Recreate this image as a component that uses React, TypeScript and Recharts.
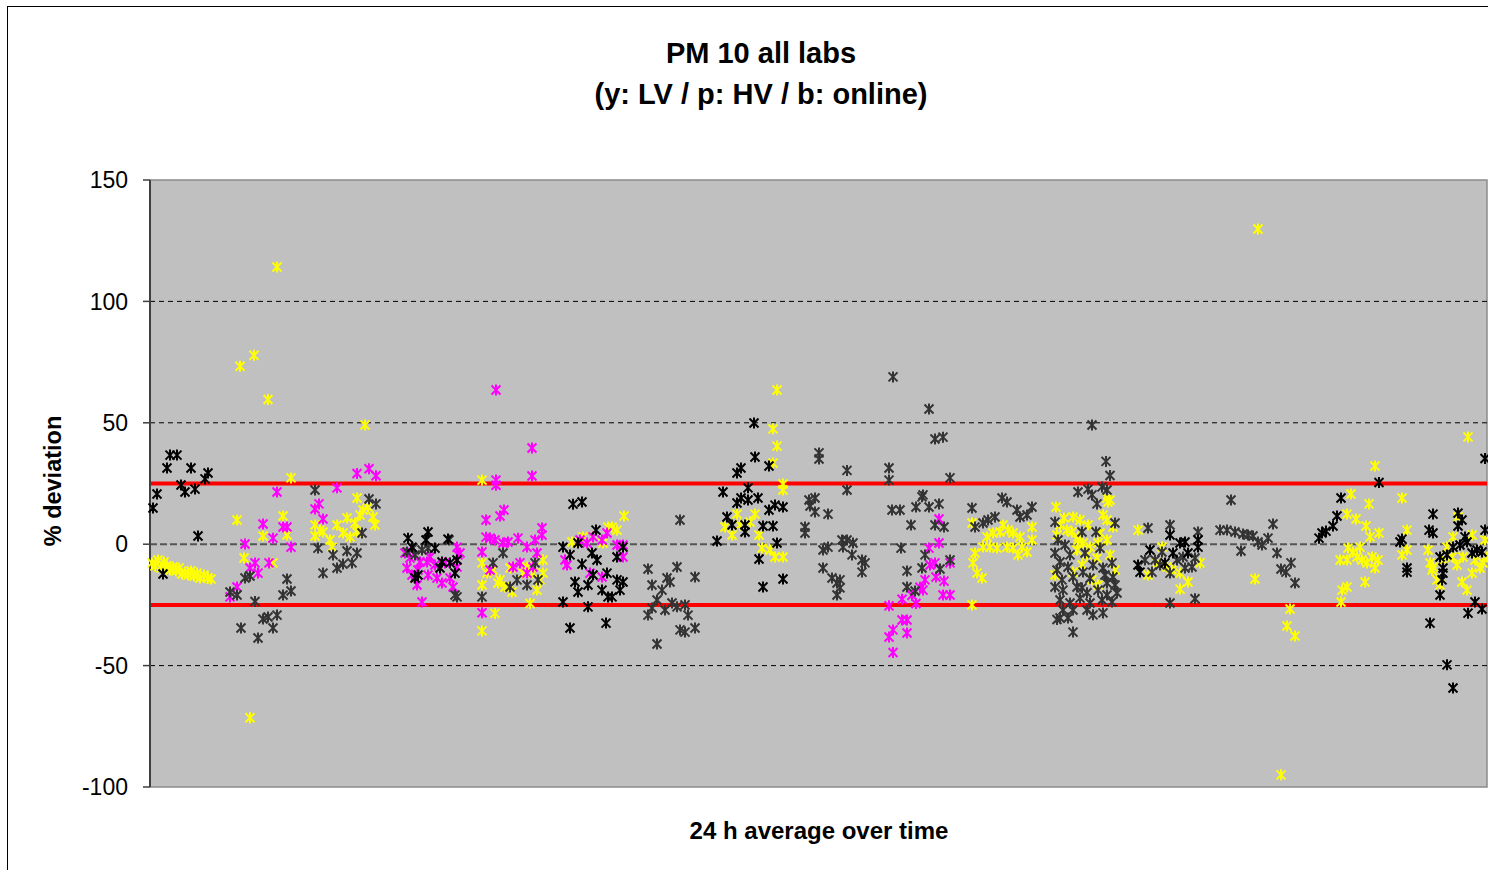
import { ReferenceArea, ReferenceLine, Scatter, ScatterChart, XAxis, YAxis } from "recharts";

// x = day index over the campaign, y = % deviation
const lvYellow: [number, number][] = [
  [1, -7.7], [2.5, -9], [4, -6.5], [5.5, -9.8], [7, -7.3], [8.5, -9], [10, -10.6], [11.5, -9.4], [13, -11], [14.5, -9.8],
  [16, -12.3], [17.5, -11.5], [19, -12.7], [20.5, -11], [22, -13.1], [23.5, -11.9], [25, -13.9], [27, -12.7], [29, -13.9], [30.5, -14.3],
  [43.5, 10], [47, -5.7], [45, 73.3], [52, 77.8], [59, 59.6], [50, -71.5], [63.5, 114.2], [56.5, 3.4], [61.5, -7.7], [66.5, 11.6],
  [68.5, 3.8], [70.5, 27.3],
  [82.5, 7.9], [85, 5.8], [86.5, 5], [82.5, 3.4], [90, 1.7], [91, -1.2], [93.5, 7.9], [98.5, 10.8], [96.5, 4.6], [100, 3],
  [103.5, 5], [105, 12], [106.5, 14.1], [109, 15.3], [111.5, 11.2], [112.5, 7.9], [102.5, 8.7], [103.5, 19], [107.5, 49.1],
  [166, 26.4], [166, -7.7], [168.5, -11.9], [171.5, -10.6], [175, -14.7], [177.5, -17.6], [181, -19.7], [186.5, -11.9], [188.5, -9.4],
  [191.5, -11.9], [193.5, -18.9], [195, -14.7], [196.5, -6.5], [196.5, -11.9], [190, -24.4], [166, -16.8], [172.5, -28.5], [166, -35.7],
  [174, -16], [180, -9.8],
  [211, 0.9], [216.5, 3], [221.5, 3], [226.5, 0.5], [229, 7.1], [231, 7.1], [233.5, 5.8], [237, 11.6],
  [311.5, 47.5], [313.5, 40.4], [311.5, 33.4], [316.5, 24.8], [316.5, 22.3], [293.5, 12.4], [302.5, 12.4], [287.5, 7.1], [291, 3.8],
  [300, 9.1], [304.5, 3.8], [295, 7.9], [306, -1.6], [310, -2.4], [312.5, -5.3], [316.5, -5.3], [313.5, 63.5],
  [411, 8.7], [411, -25], [411.5, -7.7], [412.5, -3.6], [413.5, -11.9], [416, -13.9], [416.5, -1.2], [418.5, 3], [421.5, 4.6],
  [425, 5], [426.5, 7.9], [429, 5.8], [431.5, 4.6], [435, 3], [436, -1.2], [438.5, -3.2], [441, 7.1], [441, 1.7], [434, -4.4],
  [420, -1.2], [423.5, -1.6], [428.5, -1.2], [431.5, -1.6],
  [453, 15.3], [457, 10.8], [461.5, 11.2], [465, 10], [469, 7.9], [476.5, 12], [479, 17.4], [478.5, 10], [481.5, 7.1], [455, 7.9],
  [458.5, 5.8], [453.5, 3.8], [461, 5], [464, 1.7], [466.5, 0.5], [470, -1.2], [474, 0.5], [478.5, 1.7], [475, 4.6], [463.5, -2.4],
  [468.5, -4.4], [473.5, -5.7], [480, -4.4], [466, -8.6], [482.5, -10.6], [471, -14.7], [474, -16.8], [452.5, -12.7], [461.5, -11.5],
  [464, 3], [478.5, 19], [480, 18.2],
  [494, 5.8], [506, -1.2], [503.5, -7.7], [508.5, -9.4], [515, -11.9], [519, -15.6], [515, -18.5], [525, -7.7], [511, -10.6], [499, -12.7],
  [552.5, -14.3], [570, -26.7], [568.5, -33.7], [572.5, -37.8], [554, 129.8], [565.5, -95],
  [659, 44.2], [612.5, 32.2], [600.5, 20.7], [609.5, 16.6], [626, 19], [598.5, 12.4], [603, 10.4], [608, 7.5], [610, 3], [614.5, 4.6],
  [628.5, 5.8], [628.5, -2.4], [626, -4.4], [599, -1.6], [601.5, -3.2], [605, -1.2], [606, -6.5], [608.5, -7.7], [611, -5.3],
  [612.5, -9.8], [595, -6.5], [614, -6.5], [603.5, -5.3], [598.5, -6.5], [607.5, -15.6], [596, -18.9], [598.5, -17.6], [595.5, -23.8],
  [654, 11.2], [651.5, 3], [661, 3.8], [667.5, 1.7],
  [639, -2.4], [640, -7.7], [641.5, -9.4], [643.5, -14.7], [645, -16.8], [648.5, -1.2], [651, -5.3], [653.5, -8.6], [656, -15.6],
  [658.5, -18.9], [661, -11.9], [662.5, -6.5], [665, -9.8], [666.5, -7.7], [641, -10.6], [646.5, -6.5], [656.5, -5.3], [668.5, -5.3],
];

const hvMagenta: [number, number][] = [
  [47.5, 0.1], [52.5, -7.7], [50, -9.8], [54, -11.9], [43.5, -17.6], [40, -21.7], [56.5, 8.3], [61.5, 2.5], [59.5, -7.7],
  [66.5, 7.1], [68.5, 7.1], [70.5, -1.2], [63.5, 21.5], [93.5, 23.2], [103.5, 29.1], [109.5, 31.1], [113, 28.2],
  [82.5, 14.5], [84.5, 16.6], [86.5, 10.4],
  [127.5, -3.6], [130, -5.7], [128.5, -9.8], [131, -12.7], [136, -23.8], [140, -5.3], [138.5, -7.3], [142.5, -8.6], [147.5, -7.7],
  [153.5, -1.2], [154, -4.4], [150, -13.9], [151.5, -17.6], [146, -16], [139, -12.7], [143.5, -13.9], [135, -7.3], [134, -10.6],
  [153.5, -9.4], [155, -3.6], [133.5, -16.8],
  [173, 63.5], [173, 26.4], [173, 24.3], [191, 39.6], [191, 28.1], [168, 10], [175, 11.6], [177, 14.1], [168, 2.9], [170, 2.5],
  [172.5, 1.7], [176.5, 0.5], [179, 0.9], [184, 2.5], [188.5, -1.2], [192.5, 1.7], [196, 6.7], [196, 3.8], [166, -3.2], [170, -10.6],
  [181.5, -9.4], [185, -7.7], [188.5, -11.9], [191.5, -9.4], [193.5, -3.6], [166, -28.2],
  [207.5, -6.5], [208.5, -8.6], [215, 1.7], [221.5, 3], [218.5, 0.5], [226, 1.7], [228.5, 4.6], [226, -13.5], [220, -11.9],
  [233.5, -0.3], [236.5, -0.3], [236.5, -5.3],
  [394.5, 10.4], [394.5, 0.5], [389.5, -1.6], [387.5, -14.7], [392.5, -7.7], [390, -8.6], [393, -13.5], [397, -15.2], [400, -7.7],
  [385, -17.7], [386.5, -18.9], [381, -21], [376, -22.7], [383, -24.4], [396.5, -20.9], [400, -20.9], [369.5, -25.4], [376, -31.2],
  [378.5, -31.2], [371.5, -35.3], [369.5, -38.2], [378.5, -36.6], [371.5, -44.6],
];

const onlineBlack: [number, number][] = [
  [1.5, 14.9], [3.5, 20.7], [8.5, 31.4], [10, 36.7], [13.5, 36.7], [15.5, 24.4], [17.5, 21.5], [20.5, 31.4], [22.5, 22.7],
  [24, 3.4], [27.5, 26.9], [29, 29.3], [6.5, -12.3],
  [129, 2.5], [139, 5], [138, 1.7], [131, -1.2], [142.5, -1.6], [149, 2.1], [146, -7.3], [150, -7.7], [153.5, -6.5],
  [134, -12.7], [132.5, -13.9], [152.5, -11.9], [145, -9.8],
  [211.5, 16.5], [216, 17.4], [206.5, -1.2], [210, -4.4], [214, 0.5], [223, 5.8], [216, -8.2], [221, -3.6], [223.5, -6.5],
  [212.5, -15.6], [214, -19.7], [219, -16.8], [221.5, -12.7], [226, -18.9], [228.5, -11.9], [206.5, -23.8], [219, -25.8],
  [210, -34.5], [228, -32.5], [229, -21.7], [233.5, -5.3], [236.5, -1.2], [233.5, -14.7], [236.5, -15.6], [235, -18.9], [231, -21.7],
  [302, 49.9], [302.5, 35.9], [293.5, 29.3], [295.5, 31.4], [309.5, 32.2], [286.5, 21.5], [299, 23.2], [295.5, 19], [293.5, 17],
  [299, 18.2], [304, 19], [288.5, 11.2], [291, 7.9], [297.5, 7.9], [297.5, 5], [306.5, 7.5], [311.5, 7.5], [309.5, 14.1],
  [312.5, 16.1], [316.5, 15.3], [283.5, 1.3], [313.5, 0.5], [304.5, -6.1], [316.5, -14.3], [306.5, -17.6],
  [494, -8.6], [495, -11.5], [500, -2.4], [510, 3.8], [515, 0.5], [517.5, 0.9], [519, -3.6], [524, 1.7], [524, -1.2],
  [507.5, -7.7], [511.5, -3.6],
  [667.5, 35.3], [614.5, 25.4], [595.5, 19], [593.5, 11.6], [591.5, 7.5], [588, 5.4], [586, 4.6], [584.5, 2.5],
  [626, 2.1], [625, 0.9], [628.5, -9.8], [628.5, -11.5], [641.5, 12.4], [639.5, 5.8], [641.5, 4.6], [654, 12.8], [656, 10],
  [654, 7.5], [667.5, 5.8], [645, -5.3], [646.5, -9.8], [646.5, -11.9], [646, -14.7], [645, -20.9], [648.5, -4.4], [651.5, -1.2],
  [655, -0.3], [658.5, 0.9], [661, -3.6], [663.5, -2.4], [666, -3.2], [657.5, 3], [640, -32.5], [659, -28.4], [662.5, -23.8],
  [666, -26.7], [648.5, -49.7], [651.5, -59.2],
];

const onlineGray: [number, number][] = [
  [47.5, -13.9], [50, -13.1], [40, -19.7], [43.5, -20.9], [52.5, -23.6], [45.5, -34.5], [54, -38.6], [56.5, -30.8], [59, -30],
  [63.5, -29.2], [61.5, -34.5], [68.5, -14.3], [66.5, -20.9], [70.5, -19.3],
  [82.5, 22.3], [109.5, 18.6], [113, 16.6], [84, -1.6], [91.5, -4.4], [86.5, -11.9], [93.5, -9.8], [96.5, -8.2], [101, -7.7],
  [98.5, -2.8], [103.5, -3.6], [106, 4.6],
  [128.5, -3.2], [132.5, -4.4], [136, -2.4], [139, -1.6], [131.5, -1.6], [152.5, -20.9], [153.5, -21.7], [149.5, 1.7],
  [171.5, -7.7], [176.5, -3.6], [166, -21.7], [180, -17.6], [183.5, -14.7], [188.5, -16.8], [192.5, -7.7], [194, -14.7],
  [249, -10.2], [263.5, -9.4], [272.5, -13.5], [251, -16.8], [258.5, -13.9], [260, -15.6], [256, -18.9], [253.5, -23], [251, -26.3],
  [249, -29.2], [257.5, -27.1], [261, -24.2], [263.5, -25.8], [267.5, -25], [269, -29.2], [265, -35.3], [267.5, -36.2],
  [272.5, -34.5], [253.5, -41.1], [265, 10],
  [329.5, 18.2], [332.5, 19], [330, 15.7], [332.5, 13.3], [334.5, 37.6], [334.5, 35.1], [339, 12.4], [327.5, 7.1], [327.5, 4.6],
  [336.5, -2.4], [339, -1.2], [336.5, -9.8], [341, -13.9], [343.5, -16], [343.5, -20.9],
  [389.5, 55.7], [392.5, 43.3], [396.5, 44.1], [371.5, 68.9], [348.5, 30.4], [348.5, 22.3], [369.5, 31.4], [369.5, 26.4],
  [400, 27.3], [346, 1.7], [348.5, 1.7], [351.5, 0.5], [351, -4.4], [356, -6.5], [357.5, -7.7], [356, -11.5], [346.5, -1.2],
  [345, -14.7], [345, -18], [371, 14.1], [375, 14.1], [383, 15.3], [386.5, 20.3], [386, 19.5], [389.5, 15.3], [394.5, 16.6],
  [380.5, 7.9], [392.5, 7.9], [397, 7.1], [375.5, -1.6], [387.5, -4.4], [378.5, -11], [386, -9.8], [395, -10.2], [400, -6.5],
  [378.5, -17.6], [382.5, -19.3],
  [411, 14.9], [412.5, 7.1], [416.5, 8.7], [419, 10], [422.5, 11.2], [426, 19], [428.5, 17.4], [433.5, 14.1], [435, 11.2],
  [438.5, 12], [441, 15.3],
  [471, 49.1], [478, 34.1], [480, 28.3], [464, 21.5], [469, 22.7], [471, 20.3], [476, 23.6], [478.5, 22.3], [473.5, 16.6],
  [452.5, 9.1], [466, 5], [473, 5], [482.5, 8.7], [457.5, -0.3], [452.5, -3.6], [455, -7.3], [453.5, -10.6], [459, -9.4],
  [461.5, -13.5], [466.5, -11.5], [471.5, -8.6], [476.5, -9.8], [481, -7.7], [481.5, -13.5], [452.5, -17.6], [456.5, -18.9],
  [463.5, -17.6], [468.5, -20], [474, -18.9], [478.5, -16], [482.5, -16.8], [455, -23], [460, -24.2], [465, -22.2], [470, -24.2],
  [476, -23], [481, -23.8], [456.5, -27.1], [461.5, -27.1], [468.5, -27.1], [471.5, -29.1], [476.5, -28.3], [455, -30.4],
  [459, -30.4], [461.5, -36.2], [466, -18], [470, -14], [478.5, -20.9], [483.5, -20.1], [453.5, -31], [454, 1.7], [475, -1.6],
  [467.5, -3.6], [460, -4.4], [477.5, -12.7], [456, -14.7],
  [499, 6.7], [510, 7.9], [501, -11.5], [502.5, -6.5], [506, -3.2], [510, -11.9], [516.5, -5.3], [522.5, -5.7], [524, 5],
  [521, -9.4], [517.5, -9.8], [510, -24.2], [522.5, -22.5], [513.5, -6.5], [497.5, -6.5], [505, -8.6],
  [540.5, 18.2], [535, 5.8], [538.5, 5.8], [542.5, 5], [546.5, 4.2], [549, 3.8], [551.5, 3.4], [554, 0.9], [556, -0.3],
  [559, 2.5], [561.5, 8.3], [545.5, -2.8], [563.5, -3.6], [565.5, -10.2], [568, -11.5], [570.5, -7.7], [572.5, -16],
];

const yTicks = [-100, -50, 0, 50, 100, 150];
const dashedLevels = [100, 50, -50];
const limitLevels = [25, -25];

const toPoints = (arr: [number, number][]) => arr.map(([x, y]) => ({ x, y }));

function asterisk(color: string) {
  return (props: any) => {
    const { cx, cy } = props;
    if (cx == null || cy == null) return <g />;
    const d = `M${cx - 4.5},${cy - 4.5}L${cx + 4.5},${cy + 4.5}M${cx - 4.5},${cy + 4.5}L${cx + 4.5},${cy - 4.5}M${cx},${cy - 5.5}L${cx},${cy + 5.5}`;
    return <path d={d} stroke={color} strokeWidth={2} fill="none" />;
  };
}

export default function App() {
  return (
    <div
      style={{
        position: "fixed",
        left: 0,
        top: 0,
        width: 1488,
        height: 870,
        overflow: "hidden",
        background: "#fff",
        fontFamily: "'Liberation Sans', Arial, sans-serif",
      }}
    >
      <div style={{ position: "absolute", left: 7, top: 6, width: 1520, height: 900, border: "1.5px solid #000" }} />
      <div style={{ position: "absolute", left: 0, top: 0 }}>
        <ScatterChart width={1488} height={870} margin={{ top: 180, right: 1, bottom: 83, left: 90 }}>
          <XAxis type="number" dataKey="x" domain={[0, 668.5]} hide />
          <ReferenceArea x1={0} x2={668.5} y1={-100} y2={150} fill="#C0C0C0" fillOpacity={1} stroke="#8a8a8a" strokeWidth={1.5} />
          {dashedLevels.map((v) => (
            <ReferenceLine key={v} y={v} stroke="#000" strokeWidth={1} strokeDasharray="5 4" />
          ))}
          <ReferenceLine y={0} stroke="#555" strokeWidth={2} strokeDasharray="7 3" />
          {limitLevels.map((v) => (
            <ReferenceLine key={v} y={v} stroke="#FF0000" strokeWidth={4} />
          ))}
          <YAxis
            type="number"
            dataKey="y"
            domain={[-100, 150]}
            ticks={yTicks}
            width={60}
            axisLine={{ stroke: "#404040", strokeWidth: 2 }}
            tickLine={{ stroke: "#404040", strokeWidth: 1.5 }}
            tickSize={7}
            tickMargin={15}
            tick={{ fill: "#000", fontSize: 23 }}
          />
          <Scatter data={toPoints(lvYellow)} shape={asterisk("#FFFF00")} isAnimationActive={false} />
          <Scatter data={toPoints(hvMagenta)} shape={asterisk("#FF00FF")} isAnimationActive={false} />
          <Scatter data={toPoints(onlineGray)} shape={asterisk("#333333")} isAnimationActive={false} />
          <Scatter data={toPoints(onlineBlack)} shape={asterisk("#000000")} isAnimationActive={false} />
        </ScatterChart>
      </div>
      <svg width={1488} height={870} style={{ position: "absolute", left: 0, top: 0, pointerEvents: "none" }}>
        <text x={761} y={63} textAnchor="middle" fontSize={29} fontWeight="bold" fill="#000">
          PM 10 all labs
        </text>
        <text x={761} y={104} textAnchor="middle" fontSize={29} fontWeight="bold" fill="#000">
          (y: LV / p: HV / b: online)
        </text>
        <text transform="translate(61,481) rotate(-90)" textAnchor="middle" fontSize={23.5} fontWeight="bold" fill="#000">
          % deviation
        </text>
        <text x={819} y={839} textAnchor="middle" fontSize={24} fontWeight="bold" fill="#000">
          24 h average over time
        </text>
      </svg>
    </div>
  );
}
